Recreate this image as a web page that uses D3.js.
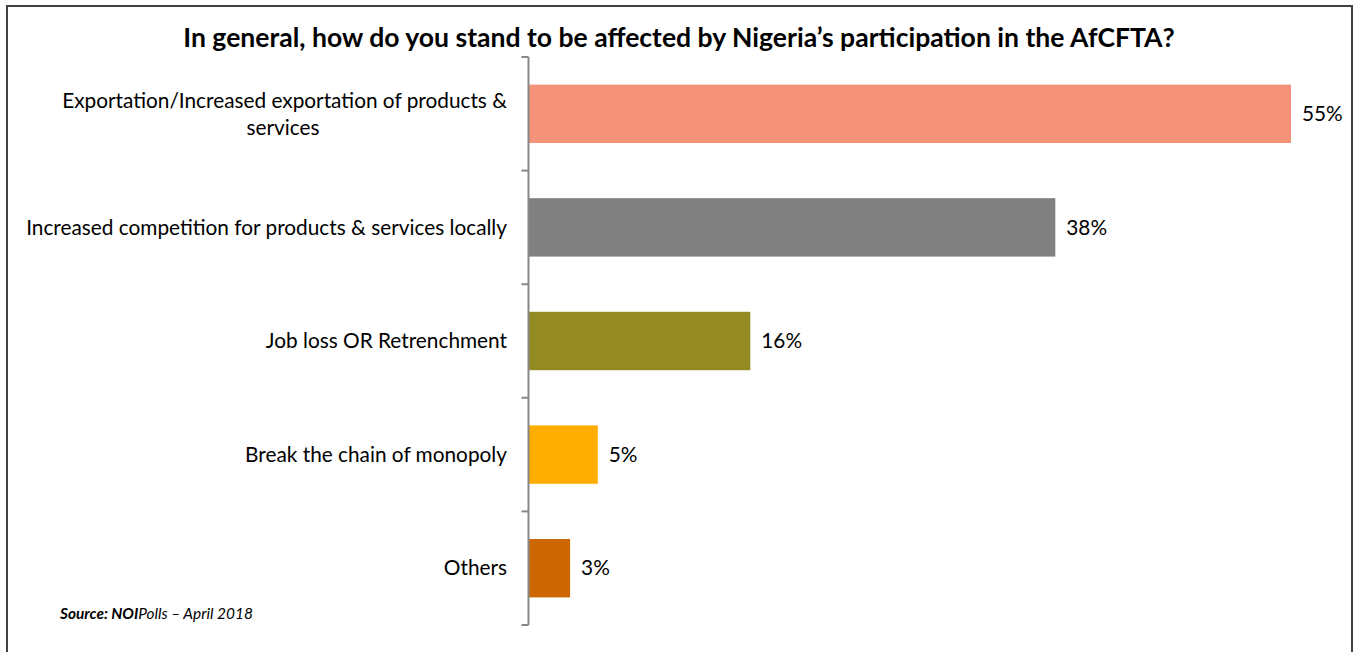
<!DOCTYPE html>
<html>
<head>
<meta charset="utf-8">
<script src="https://cdn.jsdelivr.net/npm/d3@7"></script>
<style>
  html, body { margin: 0; padding: 0; background: #fff; }
  svg { display: block; }
  text { font-family: Lato, "Open Sans", sans-serif; fill: #000; }
</style>
</head>
<body>
<svg id="chart" width="1357" height="652"></svg>
<script>
// Survey answers, top to bottom
const categories = [
  ["Exportation/Increased exportation of products &", "services"],
  ["Increased competition for products & services locally"],
  ["Job loss OR Retrenchment"],
  ["Break the chain of monopoly"],
  ["Others"]
];
const values = [55, 38, 16, 5, 3];
const barColors = ["#F4937A", "#808080", "#948A23", "#FFAE00", "#CC6600"];
const valueLabels = ["55%", "38%", "16%", "5%", "3%"];

const titleText = "In general, how do you stand to be affected by Nigeria\u2019s participation in the AfCFTA?";

const W = 1357, H = 652;
const svg = d3.select("#chart");

// outer frame
svg.append("rect")
  .attr("x", 7).attr("y", 6)
  .attr("width", 1345).attr("height", 660)
  .attr("fill", "none")
  .attr("stroke", "#404040")
  .attr("stroke-width", 2);

const axisX = 528.5;
const ids = d3.range(categories.length);

const y = d3.scaleBand()
  .domain(ids)
  .range([57, 625])
  .paddingInner(0.486)
  .paddingOuter(0.243);

const x = d3.scaleLinear()
  .domain([0, 55])
  .range([axisX, 1291]);

// fit a text element to a target width by adjusting font size
function fitWidth(sel, target) {
  const node = sel.node();
  const w = node.getComputedTextLength();
  const fs = parseFloat(sel.attr("font-size"));
  sel.attr("font-size", (fs * target / w).toFixed(2));
}

// title
const title = svg.append("text")
  .attr("x", 679).attr("y", 47)
  .attr("text-anchor", "middle")
  .attr("font-weight", 700)
  .attr("font-size", 22)
  .text(titleText);
fitWidth(title, 992);

// bars
svg.append("g").selectAll("rect")
  .data(ids)
  .join("rect")
  .attr("x", x(0))
  .attr("y", i => y(i))
  .attr("width", i => x(values[i]) - x(0))
  .attr("height", y.bandwidth())
  .attr("fill", i => barColors[i]);

// category axis: line plus ticks between categories
const ax = svg.append("g").attr("stroke", "#888888").attr("stroke-width", 2).attr("fill", "none");
ax.append("line").attr("x1", axisX).attr("x2", axisX).attr("y1", 57).attr("y2", 625);
const step = y.step();
const tickYs = d3.range(categories.length + 1).map(k => 57 + k * (568 / categories.length));
ax.selectAll("line.tick")
  .data(tickYs)
  .join("line")
  .attr("class", "tick")
  .attr("x1", axisX - 7).attr("x2", axisX)
  .attr("y1", d => d).attr("y2", d => d);

// category labels (size taken from the longest single line)
const probe = svg.append("text").attr("font-size", 18).text(categories[1][0]);
const catSize = 18 * 481 / probe.node().getComputedTextLength();
probe.remove();

const lineH = 27;
const labelG = svg.append("g");
ids.forEach(i => {
  const lines = categories[i];
  const cy = y(i) + y.bandwidth() / 2;
  const first = cy - (lines.length - 1) * lineH / 2 + catSize * 0.35;
  lines.forEach((ln, j) => {
    labelG.append("text")
      .attr("x", lines.length > 1 && j > 0 ? 283 : 507)
      .attr("y", first + j * lineH)
      .attr("text-anchor", lines.length > 1 && j > 0 ? "middle" : "end")
      .attr("font-size", catSize.toFixed(2))
      .text(ln);
  });
});

// value labels
svg.append("g").selectAll("text")
  .data(ids)
  .join("text")
  .attr("x", i => x(values[i]) + 11)
  .attr("y", i => y(i) + y.bandwidth() / 2 + catSize * 0.35)
  .attr("font-size", catSize.toFixed(2))
  .text(i => valueLabels[i]);

// source note
const src = svg.append("text")
  .attr("x", 60).attr("y", 619)
  .attr("font-size", 14)
  .attr("font-style", "italic");
src.append("tspan").attr("font-weight", 700).text("Source: NOI");
src.append("tspan").text("Polls \u2013 April 2018");
fitWidth(src, 193);
</script>
</body>
</html>
